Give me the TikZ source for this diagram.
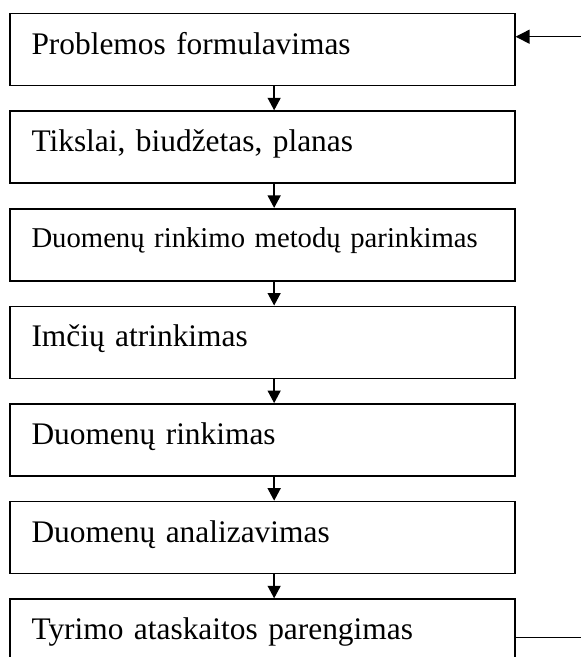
\documentclass[tikz,border=0pt]{standalone}
\usepackage{fontspec}
\setmainfont{Liberation Serif}
\usetikzlibrary{positioning,arrows.meta}
\begin{document}
\begin{tikzpicture}[x=1pt,y=-1pt,
    stage/.style={draw,line width=1.6pt,anchor=north west,inner xsep=21.4pt,inner ysep=0pt,
        text width=461.9pt,align=left,text height=40.5pt,text depth=31.5pt,
        font=\fontsize{31.4}{33}\selectfont},
    flow/.style={line width=1.4pt,-{Triangle[width=13pt,length=12.5pt]}}]
    % Parameters
    \def\arrowShift{11.7pt} % arrows sit right of the box centre
    \def\gap{24pt} % gap between the boxes

    % Page
    \useasboundingbox (0,0) rectangle (581,657);
    \clip (0,0) rectangle (581,657);

    % Stages
    \node[stage] (problem) at (9.3,12.7) {Problemos formulavimas};
    \node[stage,below=\gap of problem] (goals) {Tikslai, biudžetas, planas};
    \node[stage,below=\gap of goals,text height=38.3pt,text depth=33.7pt,
        font=\fontsize{28.7}{30}\selectfont] (methods) {Duomenų rinkimo metodų parinkimas};
    \node[stage,below=\gap of methods] (sample) {Imčių atrinkimas};
    \node[stage,below=\gap of sample] (collect) {Duomenų rinkimas};
    \node[stage,below=\gap of collect] (analyse) {Duomenų analizavimas};
    \node[stage,below=\gap of analyse] (report) {Tyrimo ataskaitos parengimas};

    % Arrows between stages
    \foreach \a/\b in {problem/goals,goals/methods,methods/sample,sample/collect,collect/analyse,analyse/report}
        \draw[flow] ([xshift=\arrowShift]\a.south) -- ([xshift=\arrowShift]\b.north);

    % Feedback loop ends
    \coordinate (loopin) at (581,36.7);
    \coordinate (loopout) at (581,637.3);
    \draw[flow,-{Triangle[width=14pt,length=14pt]}] (loopin) -- (problem.east |- loopin);
    \draw[line width=1.4pt] (report.east |- loopout) -- (loopout);
\end{tikzpicture}
\end{document}
